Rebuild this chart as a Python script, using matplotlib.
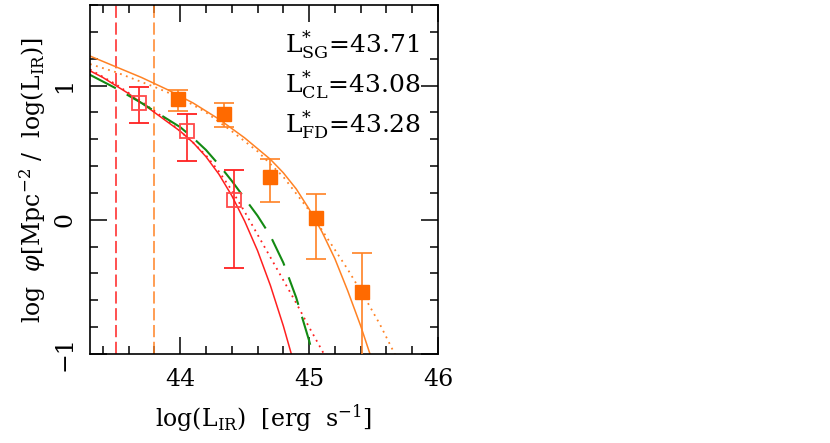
import matplotlib
matplotlib.use("Agg")
import matplotlib.pyplot as plt
from matplotlib.ticker import MultipleLocator

# field / supergroup points (filled squares)
sg_x = [43.98, 44.34, 44.70, 45.05, 45.41]
sg_y = [0.90, 0.79, 0.32, 0.01, -0.54]
sg_err_hi = [0.07, 0.08, 0.13, 0.18, 0.29]
sg_err_lo = [0.09, 0.10, 0.19, 0.30, 0.60]

# cluster points (open squares)
cl_x = [43.68, 44.05, 44.42]
cl_y = [0.87, 0.66, 0.15]
cl_err_hi = [0.12, 0.13, 0.22]
cl_err_lo = [0.15, 0.22, 0.51]

# fitted curves
sg_fit_x = [43.30, 43.50, 43.70, 43.90, 44.10, 44.30, 44.50, 44.60, 44.70, 44.80,
            44.90, 45.00, 45.10, 45.20, 45.30, 45.40, 45.50]
sg_fit_y = [1.22, 1.14, 1.06, 0.97, 0.87, 0.75, 0.61, 0.53, 0.45, 0.35,
            0.23, 0.08, -0.09, -0.29, -0.53, -0.79, -1.08]

sg_fit2_x = [43.30, 43.50, 43.80, 44.00, 44.20, 44.40, 44.60, 44.80, 45.00,
             45.15, 45.30, 45.45, 45.55, 45.68]
sg_fit2_y = [1.16, 1.10, 0.99, 0.91, 0.80, 0.66, 0.51, 0.32, 0.07,
             -0.15, -0.37, -0.61, -0.78, -1.03]

cl_fit_x = [43.30, 43.40, 43.50, 43.60, 43.70, 43.80, 43.90, 44.00, 44.10, 44.20,
            44.30, 44.40, 44.50, 44.60, 44.70, 44.80, 44.88]
cl_fit_y = [1.11, 1.06, 1.00, 0.94, 0.87, 0.80, 0.73, 0.66, 0.575, 0.47,
            0.34, 0.18, -0.01, -0.23, -0.49, -0.79, -1.06]

cl_fit2_x = [43.30, 43.50, 43.70, 43.90, 44.00, 44.10, 44.20, 44.30, 44.40, 44.50,
             44.60, 44.70, 44.80, 44.90, 45.00, 45.15]
cl_fit2_y = [1.12, 1.01, 0.88, 0.74, 0.66, 0.575, 0.48, 0.36, 0.22, 0.06,
             -0.11, -0.28, -0.45, -0.62, -0.80, -1.06]

fd_fit_x = [43.30, 43.50, 43.70, 43.80, 43.90, 44.00, 44.10, 44.20, 44.30, 44.40,
            44.50, 44.60, 44.70, 44.80, 44.90, 45.00, 45.05]
fd_fit_y = [1.08, 0.98, 0.87, 0.81, 0.75, 0.69, 0.61, 0.52, 0.41, 0.29,
            0.16, 0.03, -0.12, -0.32, -0.58, -0.90, -1.08]

# completeness limits
lim_cl = 43.50
lim_sg = 43.80

lstar_names = ["SG", "CL", "FD"]
lstar_vals = ["43.71", "43.08", "43.28"]

orange = "#ff6a00"
orange_line = "#ff8224"
red = "#ff2020"
green = "#138a13"

plt.rcParams["font.family"] = "DejaVu Serif"
plt.rcParams["mathtext.fontset"] = "dejavuserif"

fig = plt.figure(figsize=(8.30, 4.43), dpi=100)
ax = fig.add_axes([0.1084, 0.2009, 0.4193, 0.7878])

ax.axvline(lim_cl, color=red, lw=1.1, dashes=(8, 3))
ax.axvline(lim_sg, color=orange_line, lw=1.1, dashes=(8, 3))

ax.plot(sg_fit_x, sg_fit_y, color=orange_line, lw=1.1)
ax.plot(sg_fit2_x, sg_fit2_y, color=orange_line, lw=1.3, ls=(0, (1, 2.5)))
ax.plot(cl_fit_x, cl_fit_y, color=red, lw=1.1)
ax.plot(cl_fit2_x, cl_fit2_y, color=red, lw=1.3, ls=(0, (1, 2.5)))
ax.plot(fd_fit_x, fd_fit_y, color=green, lw=1.5, dashes=(14, 6))

ax.errorbar(sg_x, sg_y, yerr=[sg_err_lo, sg_err_hi], fmt="s", ms=9.5,
            color=orange, mfc=orange, mec=orange, ecolor=orange_line,
            elinewidth=1.2, capsize=7, capthick=1.2, zorder=5)
ax.errorbar(cl_x, cl_y, yerr=[cl_err_lo, cl_err_hi], fmt="s", ms=10,
            mfc="none", mec="#ff4a4a", mew=1.3, ecolor=red,
            elinewidth=1.2, capsize=7, capthick=1.2, zorder=5)

ax.set_xlim(43.3, 46.0)
ax.set_ylim(-1.0, 1.6)
ax.set_xticks([44, 45, 46])
ax.xaxis.set_minor_locator(MultipleLocator(0.2))
ax.set_yticks([-1, 0, 1])
ax.yaxis.set_minor_locator(MultipleLocator(0.2))
ax.set_yticklabels(["\u22121", "0", "1"], rotation=90, va="center")
ax.tick_params(which="both", direction="in", top=True, right=True,
               labelsize=17, width=1.1)
ax.tick_params(which="major", length=12, pad=10)
ax.tick_params(which="minor", length=6)
for sp in ax.spines.values():
    sp.set_linewidth(1.2)

ax.set_xlabel(r"log(L$_{\rm IR}$)  [erg  s$^{-1}$]", fontsize=17, labelpad=8)
ax.set_ylabel(r"log  $\varphi$[Mpc$^{-2}$ /  log(L$_{\rm IR}$)]", fontsize=17, labelpad=4)

for i, (name, val) in enumerate(zip(lstar_names, lstar_vals)):
    ax.text(0.56, 0.862 - 0.114 * i, r"L$^{*}_{\rm %s}$=%s" % (name, val),
            transform=ax.transAxes, fontsize=18, va="baseline", ha="left")

fig.savefig("out.png", dpi=100)
